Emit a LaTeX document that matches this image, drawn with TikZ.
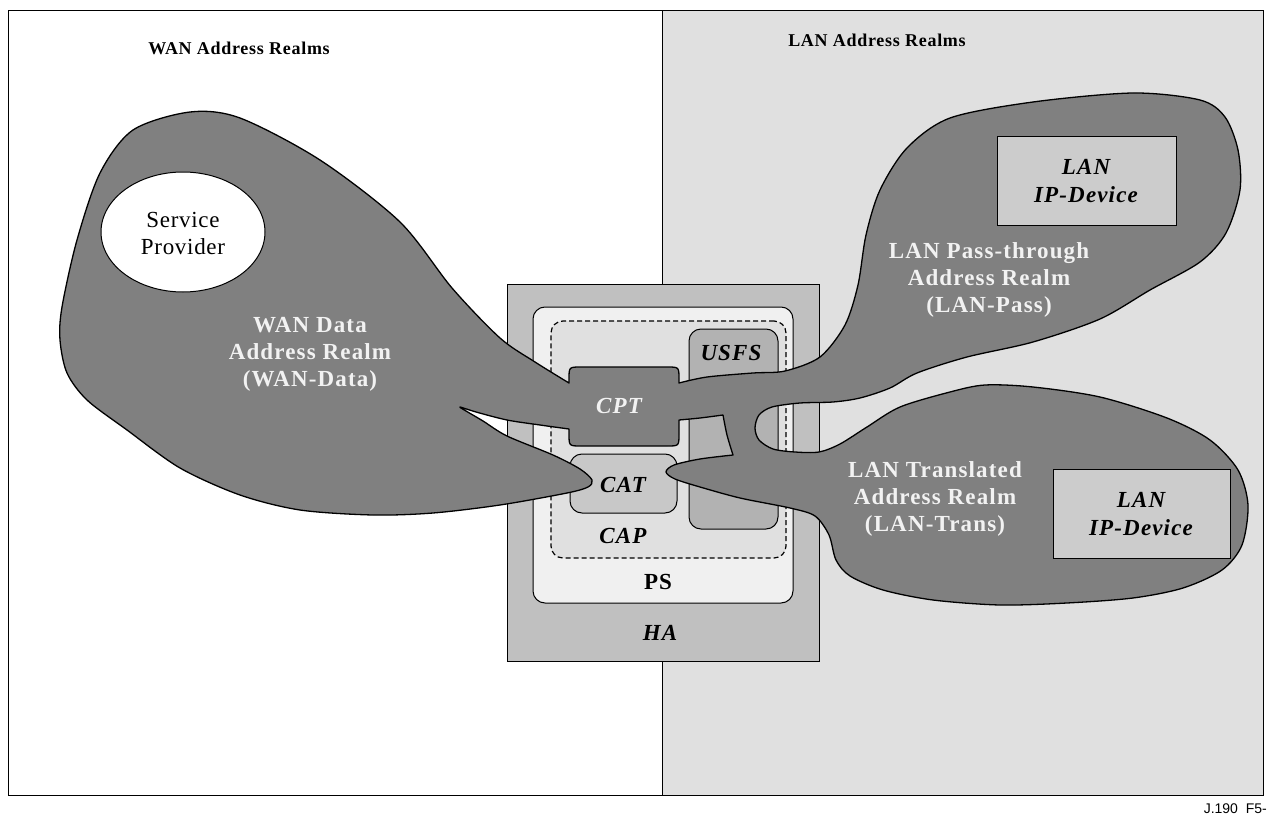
\documentclass[tikz,border=0pt]{standalone}
\usepackage{fontspec}
\setmainfont{Liberation Serif}
\newfontfamily\lblfont[LetterSpace=5]{Liberation Serif}
\newfontfamily\ttlfont[LetterSpace=4]{Liberation Serif}
\newfontfamily\spfont[LetterSpace=3]{Liberation Serif}
\newfontfamily\figfont{Liberation Sans}
\usetikzlibrary{shapes.geometric}
\definecolor{blobc}{HTML}{808080}
\definecolor{lanbg}{HTML}{E0E0E0}
\definecolor{hafill}{HTML}{C0C0C0}
\definecolor{psfill}{HTML}{F0F0F0}
\definecolor{capfill}{HTML}{E0E0E0}
\definecolor{usfsfill}{HTML}{B2B2B2}
\definecolor{catfill}{HTML}{C8C8C8}
\definecolor{devfill}{HTML}{CCCCCC}
\definecolor{lbltxt}{HTML}{F2F2F2}
\tikzset{
  titlelbl/.style={font=\ttlfont\bfseries\fontsize{18}{22}\selectfont, inner sep=0},
  bloblbl/.style={font=\lblfont\bfseries\fontsize{23}{27}\selectfont, text=lbltxt, align=center, inner sep=0},
  boxlbl/.style={font=\lblfont\bfseries\itshape\fontsize{23}{28}\selectfont, align=center, inner sep=0},
  plainbox/.style={draw=black, line width=1pt, inner sep=0, outer sep=0},
  rbox/.style={plainbox, rounded corners=12pt},
  blobstyle/.style={fill=blobc, draw=black, line width=1.3pt, line join=round}
}
\begin{document}
\begin{tikzpicture}[x=1pt,y=-1pt]
\useasboundingbox (0,0) rectangle (1270,816);
% backgrounds
\fill[white] (8,11) rectangle (662,795);
\fill[lanbg] (662,11) rectangle (1263,795);
\draw[line width=1pt] (8,11) rectangle (1263,795);
\coordinate (divtop) at (662,11);
\coordinate (divbot) at (662,795);
\draw[line width=1pt] (divtop) -- (divbot);
% titles
\node[titlelbl] (wantitle) at (239,48) {WAN Address Realms};
\node[titlelbl] (lantitle) at (877,40) {LAN Address Realms};
% nested boxes
\node[plainbox, fill=hafill, minimum width=312, minimum height=377] (ha) at (663,472.5) {};
\node[rbox, fill=psfill, minimum width=260, minimum height=296] (ps) at (663,455) {};
\node[rbox, fill=capfill, dashed, dash pattern=on 5pt off 3pt, line width=1.2pt, minimum width=235, minimum height=237] (cap) at (668.5,439.5) {};
\node[rbox, fill=usfsfill, minimum width=89, minimum height=200] (usfs) at (733.5,429) {};
\node[rbox, fill=catfill, minimum width=107, minimum height=59] (cat) at (623.5,483.5) {};
% the dark address realms
\path[blobstyle] (569,383) -- (569,379) .. controls (569,367) .. (581,367) -- (667,367) .. controls (679,367) .. (679,379) -- (679,383)
 -- plot[smooth] coordinates {(679,383) (707,377) (753,373) (785,371) (820,357) (845,325) (858,285) (866,235) (880,190) (907,148) (950,118) (1033,102) (1133,93) (1200,100) (1225,117) (1238,150) (1240,190) (1226,233) (1200,262) (1150,290) (1100,319) (1033,342) (967,357) (917,373) (890,388) (860,398) (833,402) (800,403) (772,407) (759,415) (755,428) (759,440) (773,449) (795,452) (819,452) (840,444) (867,427) (900,407) (950,392) (985,385) (1033,387) (1100,397) (1167,418) (1210,440) (1238,470) (1248,505) (1242,545) (1222,570) (1183,588) (1133,598) (1067,603) (1000,605) (933,600) (883,590) (850,576) (836,560) (829,535) (815,516) (790,508) (740,498) (700,487) (675,479) (666,472) (674,465) (700,459) (733,455)}
 -- plot[smooth] coordinates {(733,455) (727,435) (723,415)}
 -- plot[smooth] coordinates {(723,415) (700,418) (679,420)}
 -- (679,434) .. controls (679,446) .. (667,446) -- (581,446) .. controls (569,446) .. (569,434) -- (569,429)
 -- plot[smooth] coordinates {(569,429) (540,425) (507,420) (476,412) (460,407) (466,411) (483,421) (507,436) (553,455) (580,469) (592,480) (588,487) (567,493) (500,505) (433,513) (373,515) (300,510) (240,495) (180,468) (127,430) (87,400) (67,373) (60,340) (62,307) (77,240) (100,173) (133,130) (190,112) (240,118) (320,160) (400,222) (452,288) (500,338) (535,362) (569,383)}
 -- cycle;
% labels inside HA
\node[boxlbl, text=lbltxt] (cptl) at (619,406) {CPT};
\node[boxlbl] (usfsl) at (731,353) {USFS};
\node[boxlbl] (catl) at (623,485) {CAT};
\node[boxlbl] (capl) at (623,536) {CAP};
\node[font=\lblfont\bfseries\fontsize{23}{27}\selectfont, inner sep=0] (psl) at (658,582) {PS};
\node[boxlbl] (hal) at (660,633) {HA};
% service provider
\node[ellipse, draw=black, line width=1pt, fill=white, minimum width=164, minimum height=120, inner sep=0] (sp) at (183,232) {};
\node[font=\spfont\fontsize{23}{27}\selectfont, align=center, inner sep=0] (spl) at (183,233) {Service\\Provider};
% LAN devices
\node[plainbox, fill=devfill, minimum width=179, minimum height=89] (dev1) at (1086.5,180.5) {};
\node[boxlbl] (dev1l) at (1086,181) {LAN\\IP-Device};
\node[plainbox, fill=devfill, minimum width=177, minimum height=89] (dev2) at (1141.5,513.5) {};
\node[boxlbl] (dev2l) at (1141,514) {LAN\\IP-Device};
% realm labels
\node[bloblbl] (wanl) at (310,354) {WAN Data\\Address Realm\\(WAN-Data)};
\node[bloblbl] (passl) at (989,280) {LAN Pass-through\\Address Realm\\(LAN-Pass)};
\node[bloblbl] (transl) at (935,499) {LAN Translated\\Address Realm\\(LAN-Trans)};
% figure id
\node[font=\figfont\fontsize{14}{16}\selectfont, anchor=base east, inner sep=0] (figid) at (1267,813) {J.190\ \ F5-};
\end{tikzpicture}
\end{document}
